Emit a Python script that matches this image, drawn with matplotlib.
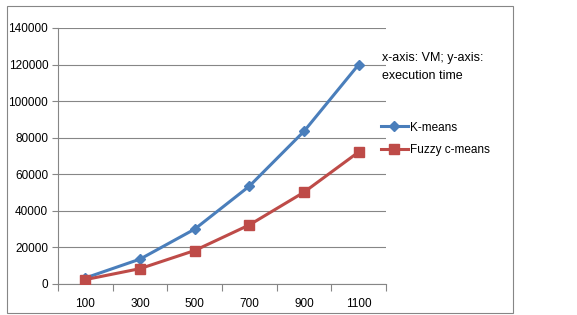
import matplotlib
matplotlib.use("Agg")
import matplotlib.pyplot as plt
from matplotlib.patches import Rectangle
from matplotlib.lines import Line2D

vm = ["100", "300", "500", "700", "900", "1100"]
kmeans = [3300, 13600, 30000, 53500, 83500, 120000]
fuzzy = [2400, 8400, 18300, 32300, 50200, 72200]

blue = "#4A7EBB"
red = "#BE4B48"
grid = "#868686"

plt.rcParams["font.family"] = ["Liberation Sans", "DejaVu Sans"]

fig = plt.figure(figsize=(5.77, 3.15), dpi=100)
ax = fig.add_axes([58 / 577, 1 - 284 / 315, 328 / 577, 256 / 315])

# outer chart border
fig.patches.append(Rectangle((7 / 577, 1 - 313 / 315), 506 / 577, 307 / 315,
                             transform=fig.transFigure, fill=False,
                             edgecolor=grid, linewidth=0.8))

x = [i + 0.5 for i in range(len(vm))]
ax.plot(x, kmeans, color=blue, lw=2.2, marker="D", ms=5, label="K-means", zorder=3)
ax.plot(x, fuzzy, color=red, lw=2.2, marker="s", ms=7, label="Fuzzy c-means", zorder=3)

ax.set_xlim(0, 6)
ax.set_ylim(0, 140000)
ax.set_yticks(range(0, 140001, 20000))
ax.set_xticks(range(0, 7))
ax.set_xticklabels([])
ax.set_xticks(x, minor=True)
ax.set_xticklabels(vm, minor=True)
ax.tick_params(axis="x", which="major", length=5, color=grid, direction="out")
ax.tick_params(axis="x", which="minor", length=0, pad=10, labelsize=8.5)
ax.tick_params(axis="y", length=4, color=grid, labelsize=8.5, pad=3)
ax.grid(axis="y", color=grid, lw=0.8)
ax.set_axisbelow(True)
for s in ["top", "right"]:
    ax.spines[s].set_visible(False)
for s in ["left", "bottom"]:
    ax.spines[s].set_color(grid)
    ax.spines[s].set_linewidth(0.8)

fig.text(382 / 577, 1 - 67 / 315, "x-axis: VM; y-axis:\nexecution time",
         fontsize=9, va="center", ha="left", linespacing=1.6)

handles = [Line2D([], [], color=blue, lw=2.2, marker="D", ms=5),
           Line2D([], [], color=red, lw=2.2, marker="s", ms=7)]
fig.legend(handles, ["K-means", "Fuzzy c-means"], loc="upper left",
           bbox_to_anchor=(370 / 577, 1 - 111 / 315), frameon=False,
           fontsize=8.5, handlelength=2.3, handletextpad=0.2, labelspacing=0.9)

fig.savefig("out.png", dpi=100)
